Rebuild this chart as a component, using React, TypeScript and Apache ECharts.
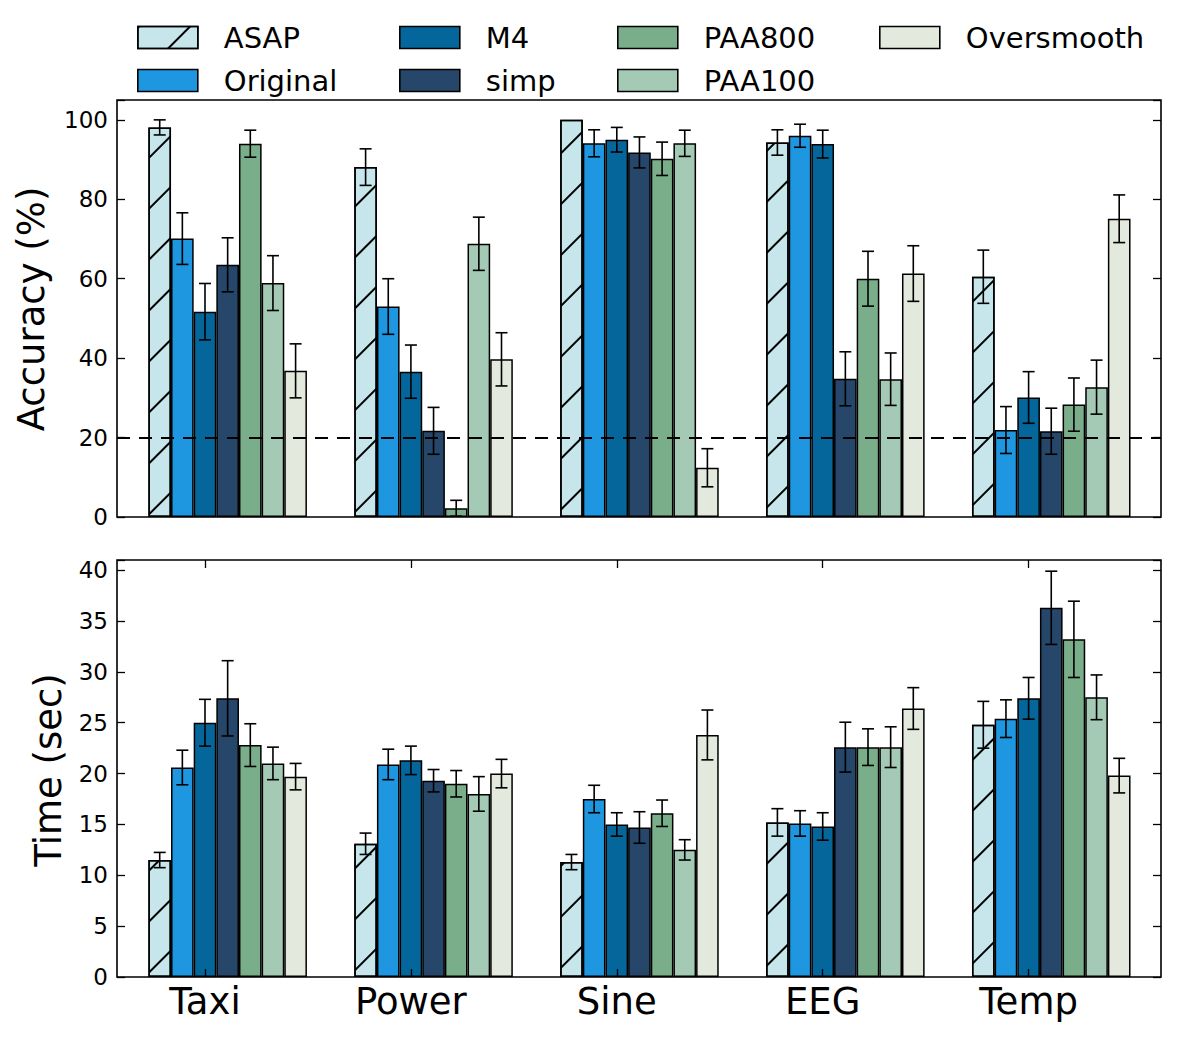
import React, { useEffect, useRef } from 'react';
import * as echarts from 'echarts';

// ---------------- data ----------------
const groups = ['Taxi', 'Power', 'Sine', 'EEG', 'Temp'];
const methods = ['ASAP', 'Original', 'M4', 'simp', 'PAA800', 'PAA100', 'Oversmooth'];
const colors = ['#c6e6ec', '#1e97e0', '#04669a', '#26466a', '#7aae8a', '#a4c9b5', '#e3eadd'];

// Accuracy (%) per method, one value per group
const accASAP = [98.1, 88.1, 100, 94.3, 60.5];
const accOriginal = [70.1, 53.0, 94.1, 96.0, 21.9];
const accM4 = [51.7, 36.6, 95.0, 93.9, 30.1];
const accSimp = [63.5, 21.7, 91.8, 34.8, 21.6];
const accPAA800 = [94.0, 2.2, 90.2, 60.0, 28.3];
const accPAA100 = [58.9, 68.8, 94.1, 34.7, 32.7];
const accOversmooth = [36.8, 39.7, 12.4, 61.3, 75.1];

const accErrASAP = [1.9, 4.6, 0, 3.2, 6.7];
const accErrOriginal = [6.5, 7.0, 3.4, 2.9, 5.9];
const accErrM4 = [7.1, 6.7, 3.1, 3.5, 6.5];
const accErrSimp = [6.8, 5.9, 3.9, 6.8, 5.8];
const accErrPAA800 = [3.4, 2.0, 4.2, 6.9, 6.7];
const accErrPAA100 = [6.9, 6.7, 3.3, 6.6, 6.8];
const accErrOversmooth = [6.8, 6.7, 4.8, 7.0, 6.0];

// Time (sec)
const timeASAP = [11.5, 13.1, 11.3, 15.2, 24.8];
const timeOriginal = [20.6, 20.9, 17.5, 15.1, 25.4];
const timeM4 = [25.0, 21.3, 15.0, 14.8, 27.4];
const timeSimp = [27.4, 19.3, 14.7, 22.6, 36.3];
const timePAA800 = [22.8, 19.0, 16.1, 22.6, 33.2];
const timePAA100 = [21.0, 18.0, 12.5, 22.6, 27.5];
const timeOversmooth = [19.7, 20.0, 23.8, 26.4, 19.8];

const timeErrASAP = [0.75, 1.05, 0.75, 1.35, 2.3];
const timeErrOriginal = [1.7, 1.5, 1.35, 1.25, 1.85];
const timeErrM4 = [2.3, 1.4, 1.15, 1.35, 2.05];
const timeErrSimp = [3.7, 1.1, 1.55, 2.45, 3.6];
const timeErrPAA800 = [2.1, 1.3, 1.3, 1.8, 3.75];
const timeErrPAA100 = [1.6, 1.7, 1.0, 2.0, 2.2];
const timeErrOversmooth = [1.3, 1.4, 2.45, 2.05, 1.7];

const accTicks = [0, 20, 40, 60, 80, 100];
const timeTicks = [0, 5, 10, 15, 20, 25, 30, 35, 40];
const chanceLevel = 20;

const accVals = [accASAP, accOriginal, accM4, accSimp, accPAA800, accPAA100, accOversmooth];
const accErrs = [accErrASAP, accErrOriginal, accErrM4, accErrSimp, accErrPAA800, accErrPAA100, accErrOversmooth];
const timeVals = [timeASAP, timeOriginal, timeM4, timeSimp, timePAA800, timePAA100, timeOversmooth];
const timeErrs = [timeErrASAP, timeErrOriginal, timeErrM4, timeErrSimp, timeErrPAA800, timeErrPAA100, timeErrOversmooth];

// ---------------- layout ----------------
const W = 1177;
const H = 1037;
const FONT = '"DejaVu Sans", sans-serif';
const GRID_LEFT = 117;
const GRID_RIGHT = 16;
const X_MIN = -0.4274;
const X_MAX = 4.643;
const BAR_STEP = 0.11; // bar width in group units
const BAR_PX = (BAR_STEP * (W - GRID_LEFT - GRID_RIGHT)) / (X_MAX - X_MIN);
const TICK_SERIES = 2; // ticks sit under the M4 bar

const barX = (i: number, s: number) => i + (s - TICK_SERIES) * BAR_STEP;
const groupPos = groups.map((_, i) => i);

const hatch = {
  symbol: 'rect',
  symbolSize: 1,
  color: '#000',
  dashArrayX: [1, 0],
  dashArrayY: [1.4, 34],
  rotation: -Math.PI / 4,
};

function barSeries(vals: number[][], gridIdx: number, yIdx: number) {
  return methods.map((m, s) => ({
    type: 'bar',
    name: m,
    xAxisIndex: gridIdx,
    yAxisIndex: yIdx,
    barWidth: BAR_PX,
    barGap: '-100%',
    itemStyle: {
      color: colors[s],
      borderColor: '#000',
      borderWidth: 1.5,
      ...(s === 0 ? { decal: hatch } : {}),
    },
    emphasis: { disabled: true },
    data: vals[s].map((v, i) => [barX(i, s), v]),
  }));
}

function errData(vals: number[][], errs: number[][]) {
  const out: number[][] = [];
  vals.forEach((row, s) =>
    row.forEach((v, i) => {
      const e = errs[s][i];
      if (e > 0) out.push([barX(i, s), v - e, v + e]);
    })
  );
  return out;
}

const renderErr = (params: any, api: any) => {
  const x = api.value(0);
  const lo = api.value(1);
  const hi = api.value(2);
  const p1 = api.coord([x, hi]);
  const p2 = api.coord([x, lo]);
  const cap = 6;
  const style = { stroke: '#000', lineWidth: 1.6 };
  return {
    type: 'group',
    children: [
      { type: 'line', shape: { x1: p1[0], y1: p1[1], x2: p2[0], y2: p2[1] }, style },
      { type: 'line', shape: { x1: p1[0] - cap, y1: p1[1], x2: p1[0] + cap, y2: p1[1] }, style },
      { type: 'line', shape: { x1: p2[0] - cap, y1: p2[1], x2: p2[0] + cap, y2: p2[1] }, style },
    ],
  };
};

const legendCols = [
  ['ASAP', 'Original'],
  ['M4', 'simp'],
  ['PAA800', 'PAA100'],
  ['Oversmooth'],
];
const legendColLeft = [137, 399, 617, 879];

export default function App() {
  const ref = useRef<HTMLDivElement>(null);
  useEffect(() => {
    const el = ref.current;
    if (!el) return;
    const chart = echarts.init(el, undefined, { renderer: 'svg', width: W, height: H });

    const tickIn = { show: true, inside: true, length: 8, lineStyle: { color: '#000', width: 1.3 } };
    const noLine = { show: false, onZero: false };
    const xBase = {
      type: 'value',
      min: X_MIN,
      max: X_MAX,
      splitLine: { show: false },
      axisLine: noLine,
    };
    const yAcc = { type: 'value', min: 0, max: 105, interval: 20, splitLine: { show: false }, axisLine: noLine };
    const yTime = { type: 'value', min: 0, max: 41, interval: 5, splitLine: { show: false }, axisLine: noLine };
    const yLabel = (ticks: number[]) => ({
      formatter: (v: number) => (ticks.includes(v) ? String(v) : ''),
      fontSize: 23,
      fontFamily: FONT,
      color: '#000',
      margin: 9,
    });

    const option: any = {
      animation: false,
      backgroundColor: '#fff',
      textStyle: { fontFamily: FONT },
      grid: [
        { left: GRID_LEFT, right: GRID_RIGHT, top: 100, height: 417, show: true, borderColor: '#000', borderWidth: 1.6, backgroundColor: 'transparent' },
        { left: GRID_LEFT, right: GRID_RIGHT, top: 560, height: 417, show: true, borderColor: '#000', borderWidth: 1.6, backgroundColor: 'transparent' },
      ],
      legend: legendCols.map((names, c) => ({
        orient: 'vertical',
        left: legendColLeft[c],
        top: 23,
        padding: 0,
        itemWidth: 60,
        itemHeight: 22,
        itemGap: 14,
        icon: 'rect',
        selectedMode: false,
        data: names,
        itemStyle: { borderColor: '#000', borderWidth: 1.6 },
        textStyle: { fontSize: 29, fontFamily: FONT, color: '#000', padding: [0, 0, 0, 21] },
      })),
      xAxis: [
        { ...xBase, gridIndex: 0, position: 'bottom', axisTick: { show: false }, axisLabel: { show: false } },
        {
          ...xBase,
          gridIndex: 1,
          position: 'bottom',
          z: 5,
          axisTick: { ...tickIn, customValues: groupPos },
          axisLabel: {
            customValues: groupPos,
            formatter: (v: number) => groups[Math.round(v)] ?? '',
            fontSize: 37,
            fontFamily: FONT,
            color: '#000',
            margin: 6,
          },
        },
        {
          ...xBase,
          gridIndex: 1,
          position: 'top',
          z: 5,
          axisTick: { ...tickIn, customValues: groupPos },
          axisLabel: { show: false },
        },
      ],
      yAxis: [
        { ...yAcc, gridIndex: 0, position: 'left', z: 5, axisTick: tickIn, axisLabel: yLabel(accTicks) },
        { ...yAcc, gridIndex: 0, position: 'right', z: 5, axisTick: tickIn, axisLabel: { show: false } },
        { ...yTime, gridIndex: 1, position: 'left', z: 5, axisTick: tickIn, axisLabel: yLabel(timeTicks) },
        { ...yTime, gridIndex: 1, position: 'right', z: 5, axisTick: tickIn, axisLabel: { show: false } },
      ],
      series: [
        ...barSeries(accVals, 0, 0),
        ...barSeries(timeVals, 1, 2),
        {
          type: 'custom',
          name: 'accuracy-error',
          xAxisIndex: 0,
          yAxisIndex: 0,
          z: 10,
          silent: true,
          renderItem: renderErr,
          encode: { x: 0, y: [1, 2] },
          data: errData(accVals, accErrs),
          markLine: {
            silent: true,
            symbol: ['none', 'none'],
            label: { show: false },
            lineStyle: { color: '#000', type: [13, 9], width: 1.8 },
            data: [{ yAxis: chanceLevel }],
          },
        },
        {
          type: 'custom',
          name: 'time-error',
          xAxisIndex: 1,
          yAxisIndex: 2,
          z: 10,
          silent: true,
          renderItem: renderErr,
          encode: { x: 0, y: [1, 2] },
          data: errData(timeVals, timeErrs),
        },
      ],
      graphic: [
        {
          type: 'text',
          x: 31,
          y: 309,
          rotation: Math.PI / 2,
          style: { text: 'Accuracy (%)', font: `37px ${FONT}`, fill: '#000', align: 'center', verticalAlign: 'middle' },
        },
        {
          type: 'text',
          x: 48,
          y: 770,
          rotation: Math.PI / 2,
          style: { text: 'Time (sec)', font: `37px ${FONT}`, fill: '#000', align: 'center', verticalAlign: 'middle' },
        },
      ],
    };

    chart.setOption(option);
    return () => chart.dispose();
  }, []);

  return (
    <div
      ref={ref}
      style={{ position: 'absolute', left: 0, top: 0, width: W, height: H, background: '#fff' }}
    />
  );
}
